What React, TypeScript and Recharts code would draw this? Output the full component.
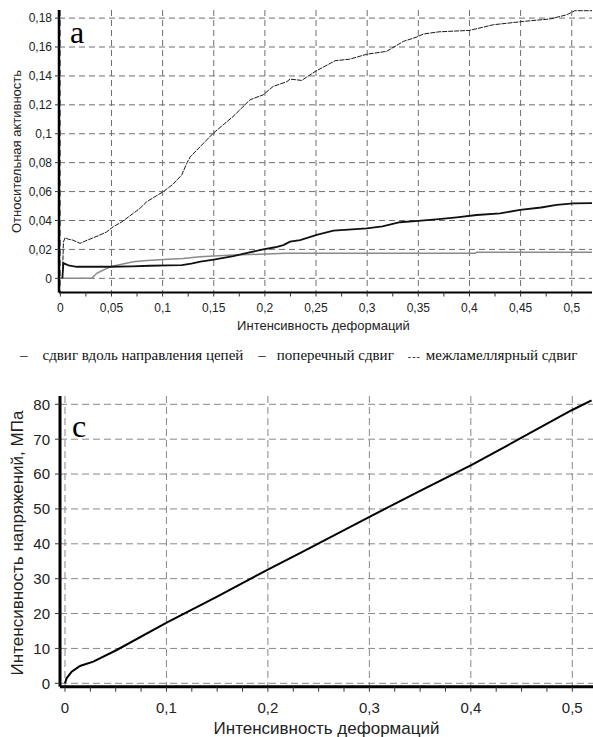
import React from 'react';
import { LineChart, Line, XAxis, YAxis, CartesianGrid } from 'recharts';

// ---------- Chart (a): relative activity vs strain intensity ----------
const interlamellarX = [0.002, 0.0025, 0.003, 0.0046, 0.008, 0.012, 0.0193, 0.025, 0.032, 0.0388, 0.045, 0.0518, 0.06, 0.0714, 0.078, 0.0845, 0.1007, 0.11, 0.1187, 0.1236, 0.127, 0.1366, 0.1496, 0.169, 0.1855, 0.1985, 0.208, 0.2214, 0.2246, 0.236, 0.249, 0.2686, 0.283, 0.2996, 0.319, 0.3354, 0.3485, 0.355, 0.37, 0.4, 0.4234, 0.4527, 0.4788, 0.4951, 0.503, 0.52];
const interlamellarY = [0, 0.012, 0.025, 0.0281, 0.027, 0.0265, 0.0242, 0.026, 0.028, 0.03, 0.032, 0.0357, 0.039, 0.045, 0.0485, 0.053, 0.06, 0.065, 0.0715, 0.0796, 0.084, 0.091, 0.1004, 0.112, 0.1235, 0.127, 0.1327, 0.136, 0.1378, 0.1369, 0.143, 0.1505, 0.1516, 0.155, 0.157, 0.1639, 0.1669, 0.169, 0.1705, 0.1715, 0.1754, 0.1777, 0.1794, 0.1823, 0.1851, 0.1851];

const chainX = [0.002, 0.003, 0.008, 0.016, 0.03, 0.0486, 0.07, 0.0877, 0.105, 0.1187, 0.128, 0.137, 0.15, 0.1692, 0.185, 0.1985, 0.21, 0.218, 0.2246, 0.2344, 0.2507, 0.267, 0.2996, 0.315, 0.332, 0.35, 0.37, 0.3876, 0.4071, 0.43, 0.4495, 0.47, 0.4853, 0.5016, 0.52];
const chainY = [0, 0.0105, 0.009, 0.008, 0.008, 0.008, 0.0083, 0.0087, 0.009, 0.0092, 0.0102, 0.0115, 0.013, 0.0154, 0.018, 0.02, 0.0215, 0.023, 0.0254, 0.0265, 0.03, 0.033, 0.0346, 0.036, 0.0388, 0.0397, 0.041, 0.0422, 0.0438, 0.045, 0.0473, 0.049, 0.0508, 0.0519, 0.052];

const transverseX = [0, 0.0307, 0.0356, 0.0486, 0.06, 0.0714, 0.085, 0.1007, 0.12, 0.1366, 0.15, 0.169, 0.2018, 0.22, 0.406, 0.407, 0.52];
const transverseY = [0, 0, 0.0035, 0.008, 0.0098, 0.0115, 0.0123, 0.0131, 0.0138, 0.015, 0.0155, 0.0161, 0.0168, 0.0173, 0.0173, 0.018, 0.018];

const activityXTicks = [0, 0.025, 0.05, 0.075, 0.1, 0.125, 0.15, 0.175, 0.2, 0.225, 0.25, 0.275, 0.3, 0.325, 0.35, 0.375, 0.4, 0.425, 0.45, 0.475, 0.5];
const activityXGrid = [0, 0.05, 0.1, 0.15, 0.2, 0.25, 0.3, 0.35, 0.4, 0.45, 0.5];
const activityYTicks = [0, 0.02, 0.04, 0.06, 0.08, 0.1, 0.12, 0.14, 0.16, 0.18];

// ---------- Chart (c): stress intensity vs strain intensity ----------
const stressX = [0, 0.0016, 0.0066, 0.0148, 0.0279, 0.051, 0.1002, 0.1495, 0.2004, 0.2316, 0.3006, 0.35, 0.4009, 0.4518, 0.4994, 0.519];
const stressY = [0, 1.43, 3.33, 4.96, 6.2, 9.55, 17.4, 24.8, 32.7, 37.3, 47.8, 55.2, 62.6, 70.7, 78.3, 81.1];

const stressXTicks = [0, 0.025, 0.05, 0.075, 0.1, 0.125, 0.15, 0.175, 0.2, 0.225, 0.25, 0.275, 0.3, 0.325, 0.35, 0.375, 0.4, 0.425, 0.45, 0.475, 0.5];
const stressXGrid = [0, 0.1, 0.2, 0.3, 0.4, 0.5];
const stressYTicks = [0, 10, 20, 30, 40, 50, 60, 70, 80];

const legendLabels = ['сдвиг вдоль направления цепей', 'поперечный сдвиг', 'межламеллярный сдвиг'];
const xTitle = 'Интенсивность деформаций';
const yTitleA = 'Относительная активность';
const yTitleC = 'Интенсивность напряжений, МПа';

const zip = (xs: number[], ys: number[]) => xs.map((x, i) => ({ x, y: ys[i] }));
const comma = (v: number) => String(Number(v.toFixed(3))).replace('.', ',');
const fmtStep = (step: number) => (v: number) => {
  const r = Math.round(v * 1000);
  return r % Math.round(step * 1000) === 0 ? comma(v) : '';
};

const SANS = '"Liberation Sans", Arial, sans-serif';
const SERIF = '"Liberation Serif", "Times New Roman", serif';

export default function App() {
  return (
    <div style={{ position: 'absolute', left: 0, top: 0, width: 593, height: 737, overflow: 'hidden', background: '#fff', fontFamily: SANS }}>
      <div style={{ position: 'absolute', left: 0, top: 0 }}>
        <LineChart width={593} height={340} margin={{ top: 10, right: 1, bottom: 7.5, left: 0 }}>
          <CartesianGrid stroke="#6e6e6e" strokeDasharray="6 4" verticalValues={activityXGrid} horizontalValues={activityYTicks} />
          <XAxis
            dataKey="x"
            type="number"
            domain={[-0.0013, 0.5198]}
            allowDataOverflow
            ticks={activityXTicks}
            interval={0}
            tickFormatter={fmtStep(0.05)}
            height={40}
            tickSize={4}
            tickMargin={7}
            axisLine={{ stroke: '#000', strokeWidth: 2.2 }}
            tickLine={{ stroke: '#333' }}
            tick={{ fontSize: 12, fill: '#222', fontFamily: SANS }}
          />
          <XAxis xAxisId="top" orientation="top" dataKey="x" type="number" domain={[-0.0013, 0.5198]} height={0} tick={false} tickLine={false} axisLine={{ stroke: '#111', strokeWidth: 1 }} />
          <YAxis
            type="number"
            domain={[-0.0098, 0.1856]}
            allowDataOverflow
            ticks={activityYTicks}
            interval={0}
            tickFormatter={comma}
            width={59}
            tickSize={4}
            tickMargin={3}
            axisLine={{ stroke: '#000', strokeWidth: 2.5 }}
            tickLine={{ stroke: '#333' }}
            tick={{ fontSize: 12, fill: '#222', fontFamily: SANS }}
          />
          <Line data={zip(transverseX, transverseY)} dataKey="y" type="linear" stroke="#8a8a8a" strokeWidth={1.5} dot={false} isAnimationActive={false} />
          <Line data={zip(chainX, chainY)} dataKey="y" type="linear" stroke="#111" strokeWidth={1.8} dot={false} isAnimationActive={false} />
          <Line data={zip(interlamellarX, interlamellarY)} dataKey="y" type="linear" stroke="#1a1a1a" strokeWidth={1} strokeDasharray="5 1" dot={false} isAnimationActive={false} />
        </LineChart>
      </div>

      <div style={{ position: 'absolute', left: 0, top: 380 }}>
        <LineChart width={593} height={357} margin={{ top: 16, right: 0, bottom: 0.3, left: 0 }}>
          <CartesianGrid stroke="#888" strokeDasharray="7 4" verticalValues={stressXGrid} horizontalValues={stressYTicks} />
          <XAxis
            dataKey="x"
            type="number"
            domain={[-0.0049, 0.5204]}
            allowDataOverflow
            ticks={stressXTicks}
            interval={0}
            tickFormatter={fmtStep(0.1)}
            height={50}
            tickSize={5}
            tickMargin={10.5}
            axisLine={{ stroke: '#000', strokeWidth: 3 }}
            tickLine={{ stroke: '#333' }}
            tick={{ fontSize: 15, fill: '#222', fontFamily: SANS }}
          />
          <XAxis xAxisId="top" orientation="top" dataKey="x" type="number" domain={[-0.0049, 0.5204]} height={0} tick={false} tickLine={false} axisLine={{ stroke: '#444', strokeWidth: 2 }} />
          <YAxis
            type="number"
            domain={[-0.975, 82.38]}
            allowDataOverflow
            ticks={stressYTicks}
            interval={0}
            width={60}
            tickSize={5}
            tickMargin={5}
            axisLine={{ stroke: '#000', strokeWidth: 3 }}
            tickLine={{ stroke: '#333' }}
            tick={{ fontSize: 15, fill: '#222', fontFamily: SANS }}
          />
          <Line data={zip(stressX, stressY)} dataKey="y" type="linear" stroke="#000" strokeWidth={2} dot={false} isAnimationActive={false} />
        </LineChart>
      </div>

      <svg width={593} height={737} style={{ position: 'absolute', left: 0, top: 0, pointerEvents: 'none' }}>
        <text x={70} y={43} fontFamily={SERIF} fontSize={32} fill="#000">a</text>
        <text x={72} y={437} fontFamily={SERIF} fontSize={32} fill="#000">c</text>

        <text x={323.5} y={329.5} textAnchor="middle" fontFamily={SANS} fontSize={13} fill="#222">{xTitle}</text>
        <text x={21} y={151.5} textAnchor="middle" fontFamily={SANS} fontSize={13} fill="#222" transform="rotate(-90 21 151.5)">{yTitleA}</text>

        <text x={326.5} y={734} textAnchor="middle" fontFamily={SANS} fontSize={17} fill="#222">{xTitle}</text>
        <text x={23} y={543} textAnchor="middle" fontFamily={SANS} fontSize={17} fill="#222" transform="rotate(-90 23 543)">{yTitleC}</text>

        <text x={20} y={360} fontFamily={SERIF} fontSize={15} fill="#111">
          <tspan>–</tspan>
          <tspan dx={15}>{legendLabels[0]}</tspan>
          <tspan dx={15}>–</tspan>
          <tspan dx={11}>{legendLabels[1]}</tspan>
          <tspan dx={14} fontSize={10} letterSpacing={1}>---</tspan>
          <tspan dx={5}>{legendLabels[2]}</tspan>
        </text>
      </svg>
    </div>
  );
}
